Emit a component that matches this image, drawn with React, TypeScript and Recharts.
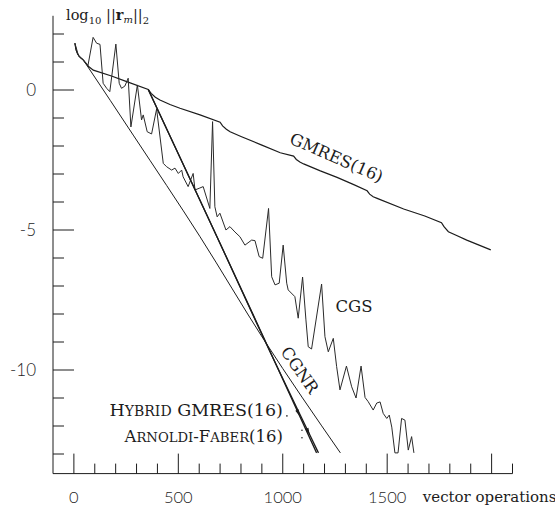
import React from 'react';
import { LineChart, Line, XAxis, YAxis, ReferenceDot } from 'recharts';

// ---- data (x = vector operations, y = log10 ||r_m||_2) ----
const gmres16: [number, number][] = [
  [5, 1.67], [10, 1.45], [16, 1.32], [25, 1.2], [45, 1.07], [69, 0.85], [93, 0.71], [180, 0.5], [253, 0.3],
  [356, 0.02], [370, -0.12], [390, -0.26], [412, -0.36], [460, -0.52], [508, -0.65], [604, -0.89], [700, -1.15],
  [712, -1.28], [730, -1.4], [748, -1.49], [800, -1.66], [900, -1.97], [988, -2.24], [1052, -2.36],
  [1065, -2.48], [1082, -2.57], [1100, -2.64], [1180, -2.89], [1260, -3.12], [1340, -3.38], [1404, -3.6],
  [1416, -3.72], [1433, -3.81], [1452, -3.87], [1579, -4.25], [1680, -4.5], [1760, -4.74],
  [1772, -4.88], [1793, -5.06], [1830, -5.19], [1881, -5.36], [1940, -5.54], [1996, -5.71],
];

const cgnr: [number, number][] = [
  [5, 1.67], [10, 1.45], [16, 1.32], [25, 1.2], [45, 1.07], [64, 0.86], [284, -1.61], [604, -5.24], [908, -8.9], [1276, -12.96],
];

const hybridGmres16: [number, number][] = [
  [356, 0.02], [588, -3.69], [700, -5.48], [892, -8.57], [1162, -12.96],
];

const arnoldiFaber16: [number, number][] = [
  [356, 0.02], [588, -3.69], [700, -5.48], [892, -8.6], [1171, -12.96],
];

const cgs: [number, number][] = [
  [5, 1.67], [21, 1.25], [45, 1.07], [67, 0.86], [92, 1.88], [109, 1.67], [125, 1.63], [140, 0.24],
  [157, 0.06], [172, -0.06], [201, 1.64], [217, 0.24], [228, 0.06], [244, 0.14], [260, 0.42],
  [273, -1.32], [304, 0.18], [324, -1.07], [332, -0.89], [351, -1.49], [372, -1.57], [396, -0.68],
  [428, -2.62], [444, -2.74], [468, -2.86], [484, -2.79], [500, -2.98], [516, -2.86], [523, -3.1],
  [547, -3.45], [571, -2.98], [580, -3.57], [603, -3.5], [619, -3.45], [651, -4.23], [664, -1.13],
  [675, -4.17], [686, -4.53], [699, -4.4], [728, -5.0], [747, -4.88], [771, -5.07], [795, -5.24],
  [819, -5.54], [851, -5.36], [867, -5.38], [887, -5.95], [904, -6.01], [932, -4.23], [947, -6.67],
  [963, -6.96], [983, -6.9], [1002, -5.54], [1019, -6.9], [1026, -7.14], [1058, -7.38], [1074, -8.15],
  [1095, -6.68], [1111, -8.21], [1122, -9.17], [1138, -9.25], [1186, -6.93], [1202, -8.81],
  [1218, -9.35], [1242, -8.87], [1258, -9.88], [1274, -10.71], [1305, -9.86], [1330, -10.6],
  [1351, -11.0], [1375, -9.86], [1394, -10.98], [1409, -11.13], [1433, -11.43], [1450, -11.18],
  [1466, -11.14], [1481, -11.55], [1498, -11.73], [1510, -11.61], [1522, -12.04], [1537, -12.96],
  [1552, -12.96], [1569, -11.73], [1585, -11.79], [1601, -12.86], [1617, -12.38], [1628, -12.96],
];

// ---- axes ----
const xTicks = [0, 100, 200, 300, 400, 500, 600, 700, 800, 900, 1000, 1100, 1200, 1300, 1400, 1500, 1600, 1700, 1800, 1900, 2000, 2100];
const xMajorTicks = [0, 500, 1000, 1500, 2000];
const xTickLabels = ['0', '500', '1000', '1500', 'vector operations'];
const yTicks = [2, 1, 0, -1, -2, -3, -4, -5, -6, -7, -8, -9, -10, -11, -12, -13];
const yMajorTicks = [0, -5, -10];
const yTickLabels = ['0', '-5', '-10'];

// ---- annotations ----
type Part = { t: string; small?: boolean };
const notes: { x: number; y: number; parts: Part[]; angle: number; anchor: string; size: number }[] = [
  { x: 1258, y: -2.41, parts: [{ t: 'GMRES(16)' }], angle: 23.5, anchor: 'middle', size: 16.5 },
  { x: 1341, y: -7.71, parts: [{ t: 'CGS' }], angle: 0, anchor: 'middle', size: 16.5 },
  { x: 1082, y: -10.0, parts: [{ t: 'CGNR' }], angle: 55, anchor: 'middle', size: 16.5 },
  {
    x: 1001, y: -11.43, angle: 0, anchor: 'end', size: 17.5,
    parts: [{ t: 'H' }, { t: 'YBRID', small: true }, { t: ' GMRES(16)' }],
  },
  {
    x: 1001, y: -12.36, angle: 0, anchor: 'end', size: 16.5,
    parts: [{ t: 'A' }, { t: 'RNOLDI', small: true }, { t: '-F' }, { t: 'ABER', small: true }, { t: '(16)' }],
  },
];

// arrowheads on the two hybrid curves and the little leader dots
const arrowMarks = [
  { x: 1075, y: -11.54 },
  { x: 1122, y: -12.2 },
];
const leaderDots = [
  { x: 1020, y: -11.64 },
  { x: 1092, y: -12.15 },
  { x: 1092, y: -12.42 },
];

const toPts = (a: [number, number][]) => a.map(([x, y]) => ({ x, y }));

const INK = '#1c1c1c';
const SERIF = '"DejaVu Serif", "Liberation Serif", serif';
const SANS = 'Lato, "Liberation Sans", sans-serif';

const XTick = (props: any) => {
  const { x, y, payload } = props;
  const v = payload.value;
  const mi = xMajorTicks.indexOf(v);
  const len = mi >= 0 ? 20 : 10;
  const label = mi >= 0 ? xTickLabels[mi] : null;
  const isWord = label !== null && mi === xMajorTicks.length - 1;
  return (
    <g>
      <line x1={x} y1={y} x2={x} y2={y - len} stroke={INK} strokeWidth={1} />
      {label !== null && (
        <text
          x={isWord ? x - 2 : x}
          y={isWord ? y + 28 : y + 29}
          textAnchor="middle"
          fontFamily={isWord ? SERIF : SANS}
          fontWeight={isWord ? 400 : 300}
          fontSize={isWord ? 15 : 16.5}
          fill={INK}
        >
          {label}
        </text>
      )}
    </g>
  );
};

const YTick = (props: any) => {
  const { x, y, payload } = props;
  const v = payload.value;
  const mi = yMajorTicks.indexOf(v);
  const len = mi >= 0 ? 21 : 11;
  return (
    <g>
      <line x1={x} y1={y} x2={x + len} y2={y} stroke={INK} strokeWidth={1} />
      {mi >= 0 && (
        <text x={x - 17} y={y} dy="0.36em" textAnchor="end" fontFamily={SANS} fontWeight={300} fontSize={17} fill={INK}>
          {yTickLabels[mi]}
        </text>
      )}
    </g>
  );
};

const YTitle = () => (
  <text x={66} y={20} fontFamily={SERIF} fontSize={14.5} fill={INK}>
    log
    <tspan fontSize={10} dy={4}>10</tspan>
    <tspan dy={-4}> ||</tspan>
    <tspan fontWeight="bold">r</tspan>
    <tspan fontSize={10} fontStyle="italic" dy={3}>m</tspan>
    <tspan dy={-3}>||</tspan>
    <tspan fontSize={10} dy={4}>2</tspan>
  </text>
);

const noteContent = (n: typeof notes[number]) => (props: any) => {
  const vb = props.viewBox || {};
  const cx = (vb.x ?? 0) + (vb.width ?? 0) / 2;
  const cy = (vb.y ?? 0) + (vb.height ?? 0) / 2;
  return (
    <text
      x={cx}
      y={cy}
      dy="0.36em"
      textAnchor={n.anchor as any}
      transform={n.angle ? `rotate(${n.angle} ${cx} ${cy})` : undefined}
      fontFamily={SERIF}
      fontSize={n.size}
      fill={INK}
    >
      {n.parts.map((p, i) => (
        <tspan key={i} fontSize={p.small ? n.size * 0.8 : n.size}>{p.t}</tspan>
      ))}
    </text>
  );
};

const Arrowhead = (props: any) => {
  const { cx, cy } = props;
  if (cx == null || cy == null) return null;
  const a = (65 * Math.PI) / 180;
  const ux = Math.cos(a), uy = Math.sin(a);
  const px = -uy, py = ux;
  const L = 7, W = 1.8;
  const tip = [cx + ux * L / 2, cy + uy * L / 2];
  const b1 = [cx - ux * L / 2 + px * W, cy - uy * L / 2 + py * W];
  const b2 = [cx - ux * L / 2 - px * W, cy - uy * L / 2 - py * W];
  return <polygon points={`${tip[0]},${tip[1]} ${b1[0]},${b1[1]} ${b2[0]},${b2[1]}`} fill={INK} />;
};

export default function App() {
  return (
    <div style={{ position: 'absolute', left: 0, top: 0, width: 555, height: 507, background: '#fff' }}>
      <LineChart width={555} height={507} margin={{ top: 15.8, right: 42.5, bottom: 3.4, left: 0 }}>
        <XAxis
          type="number"
          dataKey="x"
          domain={[-100, 2100]}
          ticks={xTicks}
          interval={0}
          tickSize={0}
          tickMargin={0}
          height={30}
          allowDataOverflow
          axisLine={{ stroke: INK, strokeWidth: 1 }}
          tickLine={false}
          tick={XTick}
        />
        <YAxis
          type="number"
          dataKey="y"
          domain={[-13.7, 2.65]}
          ticks={yTicks}
          interval={0}
          tickSize={0}
          tickMargin={0}
          width={53}
          allowDataOverflow
          axisLine={{ stroke: INK, strokeWidth: 1 }}
          tickLine={false}
          tick={YTick}
          label={{ content: YTitle }}
        />
        <Line data={toPts(gmres16)} dataKey="y" type="linear" dot={false} stroke={INK} strokeWidth={1.2} isAnimationActive={false} />
        <Line data={toPts(cgnr)} dataKey="y" type="monotone" dot={false} stroke={INK} strokeWidth={1} isAnimationActive={false} />
        <Line data={toPts(cgs)} dataKey="y" type="linear" dot={false} stroke="#2a2a2a" strokeWidth={1} isAnimationActive={false} />
        <Line data={toPts(hybridGmres16)} dataKey="y" type="monotone" dot={false} stroke={INK} strokeWidth={1.3} isAnimationActive={false} />
        <Line data={toPts(arnoldiFaber16)} dataKey="y" type="monotone" dot={false} stroke={INK} strokeWidth={1.3} isAnimationActive={false} />
        {notes.map((n, i) => (
          <ReferenceDot key={'n' + i} x={n.x} y={n.y} r={0} fill="none" stroke="none" ifOverflow="visible" label={{ content: noteContent(n) }} />
        ))}
        {arrowMarks.map((m, i) => (
          <ReferenceDot key={'a' + i} x={m.x} y={m.y} r={3} ifOverflow="visible" shape={Arrowhead} />
        ))}
        {leaderDots.map((m, i) => (
          <ReferenceDot key={'d' + i} x={m.x} y={m.y} r={0.8} fill={INK} stroke="none" ifOverflow="visible" />
        ))}
      </LineChart>
    </div>
  );
}
